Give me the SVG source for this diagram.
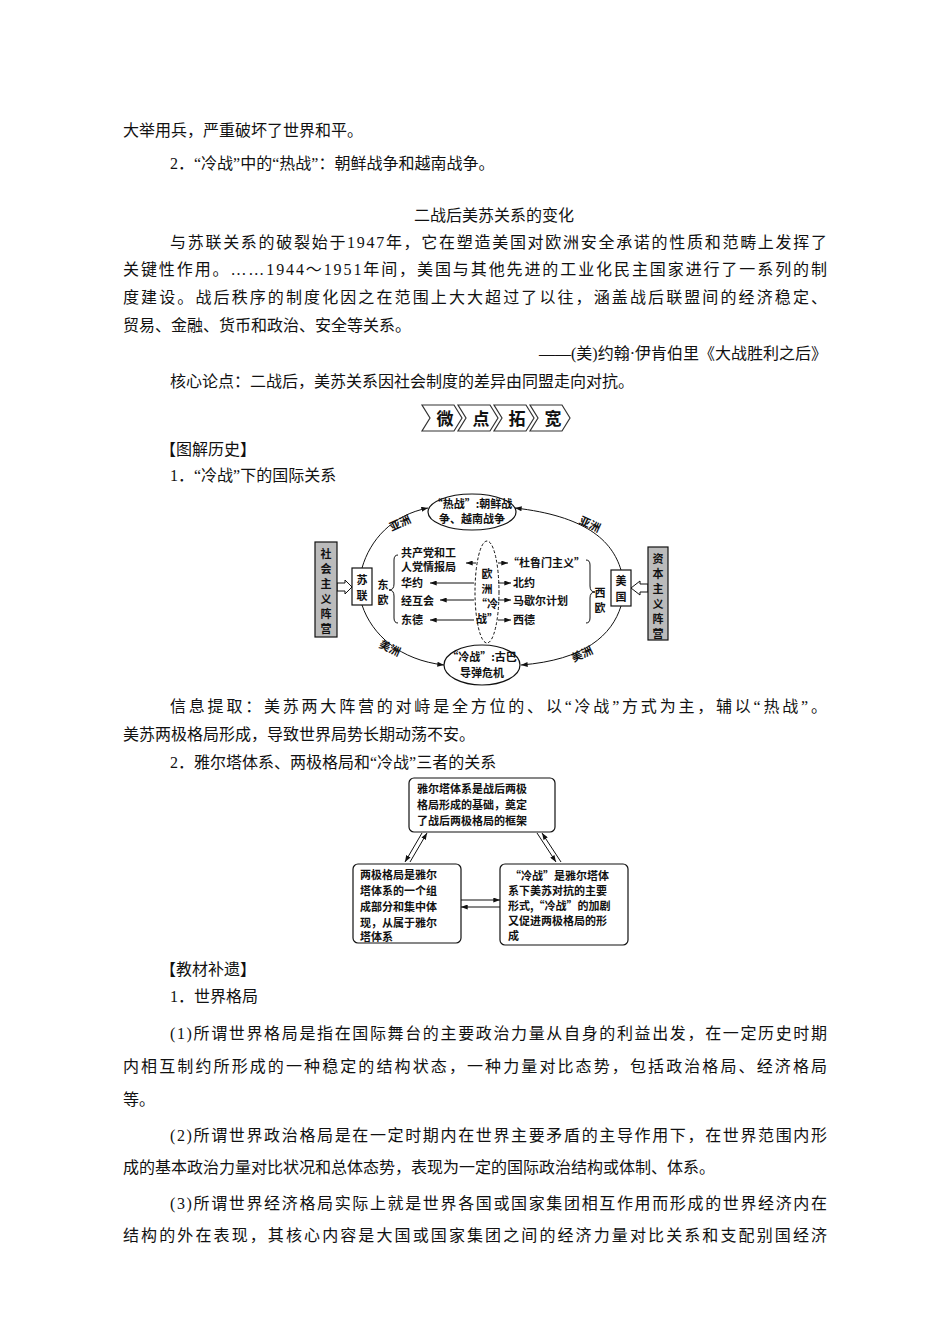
<svg xmlns="http://www.w3.org/2000/svg" width="950" height="1344" viewBox="0 0 950 1344">
<style>
.t{font-family:"Liberation Serif","Noto Sans CJK SC",serif;font-size:16px;fill:#111}
.d{font-family:"Noto Sans CJK SC",sans-serif;font-size:11px;fill:#111;font-weight:bold}
.ln{stroke:#111;stroke-width:1;fill:none}
.bx{fill:#fff;stroke:#111;stroke-width:1.2}
.g{fill:#bbb;stroke:#111;stroke-width:1.2}
.bn{font-family:"Noto Sans CJK SC",sans-serif;font-size:17px;font-weight:bold;fill:#111}
</style>
<defs>
<marker id="a" viewBox="0 0 8 6" refX="8" refY="3" markerWidth="7" markerHeight="5" orient="auto" markerUnits="userSpaceOnUse"><path d="M0,0L8,3L0,6z" fill="#111"/></marker>
</defs>
<rect width="950" height="1344" fill="#fff"/>
<g id="text">
<text class="t" x="123" y="136">大举用兵，严重破坏了世界和平。</text>
<text class="t" x="170" y="169">2．“冷战”中的“热战”：朝鲜战争和越南战争。</text>
<text class="t" x="494" y="221" text-anchor="middle">二战后美苏关系的变化</text>
<text class="t" x="170" y="248" textLength="657" lengthAdjust="spacing">与苏联关系的破裂始于1947年，它在塑造美国对欧洲安全承诺的性质和范畴上发挥了</text>
<text class="t" x="123" y="275" textLength="704" lengthAdjust="spacing">关键性作用。……1944～1951年间，美国与其他先进的工业化民主国家进行了一系列的制</text>
<text class="t" x="123" y="303" textLength="704" lengthAdjust="spacing">度建设。战后秩序的制度化因之在范围上大大超过了以往，涵盖战后联盟间的经济稳定、</text>
<text class="t" x="123" y="331">贸易、金融、货币和政治、安全等关系。</text>
<text class="t" x="827" y="359" text-anchor="end">——(美)约翰·伊肯伯里《大战胜利之后》</text>
<text class="t" x="170" y="387">核心论点：二战后，美苏关系因社会制度的差异由同盟走向对抗。</text>
<text class="t" x="160" y="455">【图解历史】</text>
<text class="t" x="170" y="481">1．“冷战”下的国际关系</text>
<text class="t" x="170" y="712" textLength="657" lengthAdjust="spacing">信息提取：美苏两大阵营的对峙是全方位的、以“冷战”方式为主，辅以“热战”。</text>
<text class="t" x="123" y="740">美苏两极格局形成，导致世界局势长期动荡不安。</text>
<text class="t" x="170" y="768">2．雅尔塔体系、两极格局和“冷战”三者的关系</text>
<text class="t" x="160" y="975">【教材补遗】</text>
<text class="t" x="170" y="1002">1．世界格局</text>
<text class="t" x="170" y="1039" textLength="657" lengthAdjust="spacing">(1)所谓世界格局是指在国际舞台的主要政治力量从自身的利益出发，在一定历史时期</text>
<text class="t" x="123" y="1072" textLength="704" lengthAdjust="spacing">内相互制约所形成的一种稳定的结构状态，一种力量对比态势，包括政治格局、经济格局</text>
<text class="t" x="123" y="1105">等。</text>
<text class="t" x="170" y="1141" textLength="657" lengthAdjust="spacing">(2)所谓世界政治格局是在一定时期内在世界主要矛盾的主导作用下，在世界范围内形</text>
<text class="t" x="123" y="1173">成的基本政治力量对比状况和总体态势，表现为一定的国际政治结构或体制、体系。</text>
<text class="t" x="170" y="1209" textLength="657" lengthAdjust="spacing">(3)所谓世界经济格局实际上就是世界各国或国家集团相互作用而形成的世界经济内在</text>
<text class="t" x="123" y="1241" textLength="704" lengthAdjust="spacing">结构的外在表现，其核心内容是大国或国家集团之间的经济力量对比关系和支配别国经济</text>
</g>
<g id="banner">
<g fill="none" stroke="#333" stroke-width="1.2">
<path d="M422,405L454,405L462,418L454,431L422,431L430,418Z"/>
<path d="M458,405L490,405L498,418L490,431L458,431L466,418Z"/>
<path d="M494,405L526,405L534,418L526,431L494,431L502,418Z"/>
<path d="M530,405L562,405L570,418L562,431L530,431L538,418Z"/>
</g>
<text x="445" y="425" class="bn" text-anchor="middle">微</text>
<text x="481" y="425" class="bn" text-anchor="middle">点</text>
<text x="517" y="425" class="bn" text-anchor="middle">拓</text>
<text x="553" y="425" class="bn" text-anchor="middle">宽</text>
</g>
<g id="connectors">
<path class="ln" marker-end="url(#a)" d="M362,568C370,540 392,515 428,508"/>
<path class="ln" marker-end="url(#a)" d="M621,570C612,540 585,516 515,508"/>
<path class="ln" marker-end="url(#a)" d="M362,605C372,635 400,660 444,665"/>
<path class="ln" marker-end="url(#a)" d="M621,606C612,635 585,660 521,665"/>
<path class="ln" marker-end="url(#a)" d="M476,563L466,563"/>
<path class="ln" marker-end="url(#a)" d="M474,583L430,583"/>
<path class="ln" marker-end="url(#a)" d="M474,600L440,600"/>
<path class="ln" marker-end="url(#a)" d="M474,620L430,620"/>
<path class="ln" marker-end="url(#a)" d="M498,563L508,563"/>
<path class="ln" marker-end="url(#a)" d="M498,583L511,583"/>
<path class="ln" marker-end="url(#a)" d="M498,600L511,600"/>
<path class="ln" marker-end="url(#a)" d="M498,620L511,620"/>
<path class="ln" d="M398,555Q394,555 394,560L394,584Q394,590 389,590Q394,590 394,596L394,618Q394,623 398,623"/>
<path class="ln" d="M586,560Q590,560 590,565L590,586Q590,592 595,592Q590,592 590,598L590,618Q590,623 586,623"/>
<path fill="#fff" stroke="#111" d="M337,583L345,583L345,580L352,587L345,594L345,591L337,591Z"/>
<path fill="#fff" stroke="#111" d="M648,584L640,584L640,581L631,588L640,595L640,592L648,592Z"/>
<path class="ln" marker-end="url(#a)" d="M422,833L405,862"/>
<path class="ln" marker-end="url(#a)" d="M410,862L427,833"/>
<path class="ln" marker-end="url(#a)" d="M537,833L556,862"/>
<path class="ln" marker-end="url(#a)" d="M561,862L542,833"/>
<path class="ln" marker-end="url(#a)" d="M461,900L500,900"/>
<path class="ln" marker-end="url(#a)" d="M500,907L461,907"/>
</g>
<g id="n-hot"><ellipse cx="472" cy="512" rx="44" ry="18" class="bx"/><text class="d" x="472" y="508" text-anchor="middle">“热战”:朝鲜战</text><text class="d" x="472" y="523" text-anchor="middle">争、越南战争</text></g>
<g id="n-cold"><ellipse cx="482" cy="665" rx="38" ry="20" class="bx"/><text class="d" x="482" y="661" text-anchor="middle">“冷战”:古巴</text><text class="d" x="482" y="677" text-anchor="middle">导弹危机</text></g>
<g id="n-soc"><rect x="315" y="542" width="22" height="95" class="g"/><text class="d" x="326" y="558" text-anchor="middle">社</text><text class="d" x="326" y="573" text-anchor="middle">会</text><text class="d" x="326" y="588" text-anchor="middle">主</text><text class="d" x="326" y="603" text-anchor="middle">义</text><text class="d" x="326" y="618" text-anchor="middle">阵</text><text class="d" x="326" y="633" text-anchor="middle">营</text></g>
<g id="n-cap"><rect x="648" y="547" width="20" height="93" class="g"/><text class="d" x="658" y="563" text-anchor="middle">资</text><text class="d" x="658" y="578" text-anchor="middle">本</text><text class="d" x="658" y="593" text-anchor="middle">主</text><text class="d" x="658" y="608" text-anchor="middle">义</text><text class="d" x="658" y="623" text-anchor="middle">阵</text><text class="d" x="658" y="638" text-anchor="middle">营</text></g>
<g id="n-su"><rect x="352" y="568" width="20" height="37" class="bx"/><text class="d" x="362" y="584" text-anchor="middle">苏</text><text class="d" x="362" y="600" text-anchor="middle">联</text></g>
<g id="n-us"><rect x="611" y="570" width="20" height="36" class="bx"/><text class="d" x="621" y="585" text-anchor="middle">美</text><text class="d" x="621" y="601" text-anchor="middle">国</text></g>
<g id="n-eu"><ellipse cx="487" cy="592" rx="12" ry="51" fill="none" stroke="#111" stroke-dasharray="3,2"/><text class="d" x="487" y="578" text-anchor="middle">欧</text><text class="d" x="487" y="593" text-anchor="middle">洲</text><text class="d" x="487" y="608" text-anchor="middle">“冷</text><text class="d" x="487" y="623" text-anchor="middle">战”</text></g>
<g id="labels1">
<text class="d" x="400" y="527" transform="rotate(-25 400 523)" text-anchor="middle">亚洲</text>
<text class="d" x="590" y="528" transform="rotate(25 590 524)" text-anchor="middle">亚洲</text>
<text class="d" x="390" y="652" transform="rotate(25 390 648)" text-anchor="middle">美洲</text>
<text class="d" x="582" y="658" transform="rotate(-25 582 654)" text-anchor="middle">美洲</text>
<text class="d" x="383" y="589" text-anchor="middle">东</text><text class="d" x="383" y="604" text-anchor="middle">欧</text>
<text class="d" x="600" y="597" text-anchor="middle">西</text><text class="d" x="600" y="612" text-anchor="middle">欧</text>
<text class="d" x="401" y="557">共产党和工</text><text class="d" x="401" y="571">人党情报局</text>
<text class="d" x="401" y="587">华约</text><text class="d" x="401" y="605">经互会</text><text class="d" x="401" y="624">东德</text>
<text class="d" x="508" y="567">“杜鲁门主义”</text><text class="d" x="513" y="587">北约</text><text class="d" x="513" y="605">马歇尔计划</text><text class="d" x="513" y="624">西德</text>
</g>
<g id="n-yalta"><rect x="409" y="778" width="146" height="54" rx="5" class="bx"/><text class="d" x="417" y="793">雅尔塔体系是战后两极</text><text class="d" x="417" y="809">格局形成的基础，奠定</text><text class="d" x="417" y="825">了战后两极格局的框架</text></g>
<g id="n-bipolar"><rect x="353" y="864" width="108" height="79" rx="5" class="bx"/><text class="d" x="360" y="879">两极格局是雅尔</text><text class="d" x="360" y="895">塔体系的一个组</text><text class="d" x="360" y="911">成部分和集中体</text><text class="d" x="360" y="927">现，从属于雅尔</text><text class="d" x="360" y="941">塔体系</text></g>
<g id="n-coldwar"><rect x="500" y="864" width="128" height="81" rx="5" class="bx"/><text class="d" x="510" y="880">“冷战”是雅尔塔体</text><text class="d" x="508" y="895">系下美苏对抗的主要</text><text class="d" x="508" y="910">形式,“冷战”的加剧</text><text class="d" x="508" y="925">又促进两极格局的形</text><text class="d" x="508" y="940">成</text></g>
</svg>
